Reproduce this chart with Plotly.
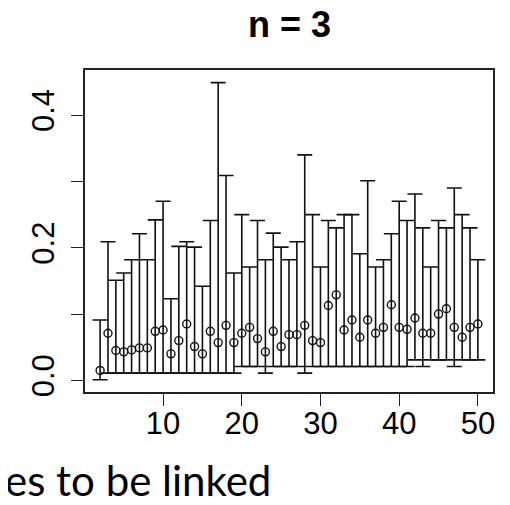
import plotly.graph_objects as go

# ---- data ----
x_vals = [2, 3, 4, 5, 6, 7, 8, 9, 10, 11, 12, 13, 14, 15, 16, 17, 18, 19, 20,
          21, 22, 23, 24, 25, 26, 27, 28, 29, 30, 31, 32, 33, 34, 35, 36, 37,
          38, 39, 40, 41, 42, 43, 44, 45, 46, 47, 48, 49, 50]

means = [0.015, 0.071, 0.045, 0.043, 0.046, 0.049, 0.049, 0.074, 0.076, 0.040,
         0.060, 0.085, 0.051, 0.040, 0.074, 0.057, 0.083, 0.057, 0.071, 0.080,
         0.063, 0.043, 0.074, 0.051, 0.069, 0.069, 0.083, 0.060, 0.057, 0.113,
         0.129, 0.076, 0.091, 0.065, 0.091, 0.071, 0.080, 0.114, 0.080, 0.077,
         0.094, 0.071, 0.071, 0.100, 0.108, 0.080, 0.065, 0.080, 0.085]

upper = [0.091, 0.209, 0.151, 0.162, 0.182, 0.221, 0.182, 0.242, 0.270, 0.123,
         0.202, 0.209, 0.201, 0.142, 0.241, 0.449, 0.309, 0.162, 0.250, 0.171,
         0.241, 0.182, 0.222, 0.201, 0.182, 0.209, 0.340, 0.250, 0.171, 0.241,
         0.230, 0.250, 0.250, 0.191, 0.301, 0.171, 0.182, 0.221, 0.270, 0.241,
         0.281, 0.230, 0.171, 0.241, 0.230, 0.290, 0.250, 0.230, 0.182]

lower = [0.001, 0.011, 0.011, 0.011, 0.011, 0.011, 0.011, 0.011, 0.011, 0.011,
         0.011, 0.011, 0.011, 0.011, 0.011, 0.011, 0.011, 0.011, 0.021, 0.021,
         0.021, 0.011, 0.021, 0.021, 0.021, 0.021, 0.011, 0.021, 0.021, 0.021,
         0.021, 0.021, 0.021, 0.021, 0.021, 0.021, 0.021, 0.021, 0.021, 0.021,
         0.031, 0.021, 0.031, 0.031, 0.031, 0.021, 0.031, 0.031, 0.031]

x_ticks = [10, 20, 30, 40, 50]
y_ticks = [0.0, 0.1, 0.2, 0.3, 0.4]
y_tick_text = ["0.0", "", "0.2", "", "0.4"]
title_text = "n = 3"
caption_text = "es to be linked"

err_plus = [u - m for u, m in zip(upper, means)]
err_minus = [m - l for m, l in zip(means, lower)]

fig = go.Figure()
fig.add_trace(go.Scatter(
    x=x_vals, y=means, mode="markers",
    marker=dict(symbol="circle-open", size=8, color="#111111",
                line=dict(width=1.4, color="#111111")),
    error_y=dict(type="data", symmetric=False, array=err_plus,
                 arrayminus=err_minus, color="#111111", thickness=1.6,
                 width=7.5),
    showlegend=False,
))

axis_font = dict(family="Liberation Sans, Arial, sans-serif", size=31, color="#000000")

# page body has an 8px margin, so the figure is drawn 8px right/down
fig.update_layout(
    width=502, height=497, autosize=False,
    margin=dict(l=77, r=17, t=62, b=113, pad=0),
    paper_bgcolor="white", plot_bgcolor="white",
    xaxis=dict(range=[0.08, 51.92], tickmode="array", tickvals=x_ticks,
               ticks="outside", ticklen=12, tickwidth=1.4, tickcolor="#222222",
               ticklabelstandoff=-9,
               showline=True, linecolor="#222222", linewidth=1.6, mirror=True,
               showgrid=False, zeroline=False, tickfont=axis_font),
    yaxis=dict(range=[-0.0175, 0.468], tickmode="array", tickvals=y_ticks,
               ticktext=y_tick_text, tickangle=-90,
               ticks="outside", ticklen=12, tickwidth=1.4, tickcolor="#222222",
               ticklabelstandoff=5,
               showline=True, linecolor="#222222", linewidth=1.6, mirror=True,
               showgrid=False, zeroline=False, tickfont=axis_font),
    annotations=[
        dict(text="<b>" + title_text + "</b>", xref="paper", yref="paper",
             x=0.5, y=(384 - 16.5) / 322, xanchor="center", yanchor="middle",
             showarrow=False,
             font=dict(family="Liberation Sans, Arial, sans-serif", size=36, color="#000000")),
        dict(text=caption_text, xref="paper", yref="paper",
             x=(265 - 77) / 408, y=(384 - 472) / 322, xanchor="right", yanchor="middle",
             showarrow=False,
             font=dict(family="Lato, sans-serif", size=42, color="#000000")),
    ],
)

fig.write_html("out.html")
